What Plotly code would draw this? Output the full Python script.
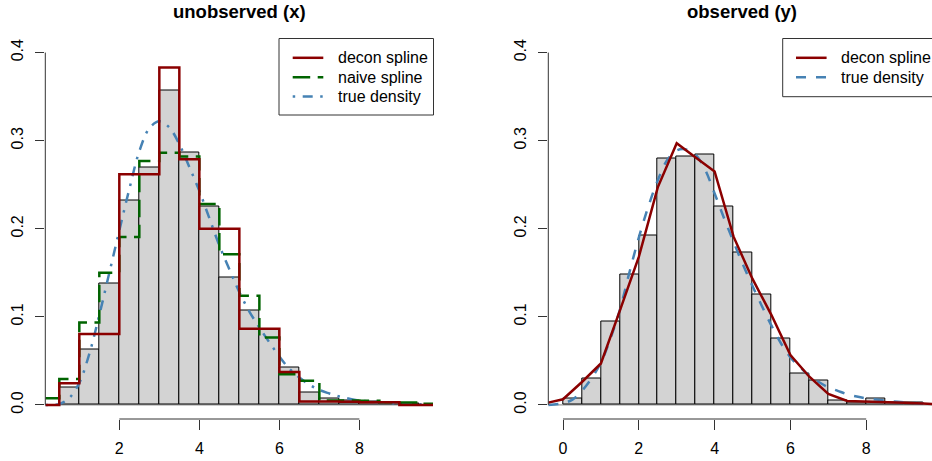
import plotly.graph_objects as go

# ---------------- data ----------------
# left panel: unobserved (x)
hist_x_edges = [0.5, 1.0, 1.5, 2.0, 2.5, 3.0, 3.5, 4.0, 4.5, 5.0, 5.5, 6.0, 6.5, 7.0, 7.5, 8.0, 8.5, 9.0, 9.5]
hist_x_dens = [0.020, 0.063, 0.1377, 0.232, 0.270, 0.357, 0.287, 0.225, 0.145, 0.1075,
               0.0857, 0.0426, 0.014, 0.0075, 0.005, 0.004, 0.003, 0.0015]

step_edges_x = [0.15, 0.5, 1.0, 1.5, 2.0, 2.5, 3.0, 3.5, 4.0, 4.5, 5.0, 5.5, 6.0, 6.5, 7.0,
                7.5, 8.0, 8.5, 9.0, 9.5, 9.84]
decon_step_x = [0.0, 0.0245, 0.0804, 0.0804, 0.262, 0.262, 0.383, 0.279, 0.200, 0.200, 0.0864,
                0.0864, 0.0374, 0.004, 0.004, 0.0035, 0.003, 0.003, 0.0, 0.0]
naive_step_x = [0.0075, 0.0294, 0.0936, 0.150, 0.1906, 0.277, 0.2864, 0.282, 0.228, 0.171, 0.1238,
                0.0766, 0.0347, 0.0275, 0.0049, 0.0049, 0.0048, 0.0029, 0.0028, 0.0012]

true_x_grid = [0.15, 0.5, 0.75, 1.0, 1.25, 1.5, 1.75, 2.0, 2.25, 2.5, 2.75, 3.0, 3.25, 3.5, 3.75,
               4.0, 4.25, 4.5, 4.75, 5.0, 5.25, 5.5, 5.75, 6.0, 6.25, 6.5, 6.75, 7.0, 7.25, 7.5,
               7.75, 8.0, 8.5, 9.0, 9.5, 9.84]
true_x_dens = [0.0, 0.001, 0.008, 0.025, 0.058, 0.102, 0.150, 0.198, 0.245, 0.288, 0.314, 0.322,
               0.315, 0.296, 0.270, 0.243, 0.212, 0.181, 0.154, 0.128, 0.106, 0.088, 0.071, 0.055,
               0.041, 0.031, 0.023, 0.017, 0.013, 0.0095, 0.007, 0.005, 0.003, 0.0015, 0.0008, 0.0005]

# right panel: observed (y)
hist_y_edges = [0.0, 0.5, 1.0, 1.5, 2.0, 2.5, 3.0, 3.5, 4.0, 4.5, 5.0, 5.5, 6.0, 6.5, 7.0, 7.5,
                8.0, 8.5, 9.0, 9.5]
hist_y_dens = [0.0075, 0.030, 0.095, 0.1475, 0.1925, 0.280, 0.2823, 0.2845, 0.225, 0.1728, 0.125,
               0.0751, 0.0355, 0.0279, 0.005, 0.0023, 0.0072, 0.0025, 0.0023]

decon_y_grid = [-0.39, 0.0, 0.5, 1.0, 1.5, 2.0, 2.5, 3.0, 3.5, 4.0, 4.5, 5.0, 5.5, 6.0, 6.5, 7.0,
                7.5, 8.0, 8.5, 9.0, 9.5, 9.8]
decon_y_dens = [0.0026, 0.0064, 0.026, 0.047, 0.107, 0.168, 0.247, 0.297, 0.281, 0.265, 0.191,
                0.143, 0.102, 0.0567, 0.032, 0.0125, 0.0045, 0.004, 0.0035, 0.0025, 0.0015, 0.001]

true_y_grid = [-0.39, 0.0, 0.25, 0.5, 0.75, 1.0, 1.25, 1.5, 1.75, 2.0, 2.25, 2.5, 2.75, 3.0, 3.25,
               3.5, 3.75, 4.0, 4.25, 4.5, 4.75, 5.0, 5.25, 5.5, 5.75, 6.0, 6.25, 6.5, 6.75, 7.0,
               7.25, 7.5, 7.75, 8.0, 8.5, 9.0, 9.5, 9.8]
true_y_dens = [0.0, 0.002, 0.006, 0.016, 0.030, 0.048, 0.075, 0.108, 0.150, 0.190, 0.225, 0.255,
               0.278, 0.289, 0.290, 0.284, 0.267, 0.240, 0.212, 0.185, 0.159, 0.135, 0.112, 0.090,
               0.070, 0.054, 0.043, 0.033, 0.026, 0.020, 0.016, 0.012, 0.0095, 0.0075, 0.0048,
               0.003, 0.0015, 0.001]

x_ticks_left = [2, 4, 6, 8]
x_ticks_right = [0, 2, 4, 6, 8]
y_ticks = [0.0, 0.1, 0.2, 0.3, 0.4]
y_ticktext = ["0.0", "0.1", "0.2", "0.3", "0.4"]

titles = ["unobserved (x)", "observed (y)"]
legend_left = ["decon spline", "naive spline", "true density"]
legend_right = ["decon spline", "true density"]

# ---------------- style ----------------
W, H = 932, 461
FONT = "Liberation Sans, Arial, Helvetica, sans-serif"
RED = "#8B0000"
GREEN = "#006400"
BLUE = "#4682B4"
GRAYFILL = "#D3D3D3"
AX = "#333333"
LW = 2.5
DASH_LONG = "17.5px,7.5px"
DASH_DOTDASH = "2.5px,7.5px,10px,7.5px"
DASH_DASH = "10px,10px"

def px_x(p):
    return p / W

def px_y(p):  # pixel from top -> paper
    return (H - p) / H

x1_dom = [px_x(45.3), px_x(433.0)]
x1_rng = [0.15, 9.84]
x2_dom = [px_x(548.3), 1.0]
x2_rng = [-0.388, 9.736]
y_dom = [px_y(419.0), px_y(38.5)]
y_rng = [-0.016, 0.416]


def centers(edges):
    return [(a + b) / 2 for a, b in zip(edges[:-1], edges[1:])]


fig = go.Figure()

# histograms
fig.add_trace(go.Bar(x=centers(hist_x_edges), y=hist_x_dens, width=0.5,
                     marker=dict(color=GRAYFILL, line=dict(color="black", width=1)),
                     xaxis="x", yaxis="y", showlegend=False, hoverinfo="skip"))
fig.add_trace(go.Bar(x=centers(hist_y_edges), y=hist_y_dens, width=0.5,
                     marker=dict(color=GRAYFILL, line=dict(color="black", width=1)),
                     xaxis="x2", yaxis="y2", showlegend=False, hoverinfo="skip"))

# left lines
fig.add_trace(go.Scatter(x=true_x_grid, y=true_x_dens, mode="lines", line_shape="spline",
                         line=dict(color=BLUE, width=LW, dash=DASH_DOTDASH),
                         xaxis="x", yaxis="y", showlegend=False))
fig.add_trace(go.Scatter(x=step_edges_x, y=naive_step_x + [naive_step_x[-1]], mode="lines",
                         line_shape="hv", line=dict(color=GREEN, width=LW, dash=DASH_LONG),
                         xaxis="x", yaxis="y", showlegend=False))
fig.add_trace(go.Scatter(x=step_edges_x, y=decon_step_x + [decon_step_x[-1]], mode="lines",
                         line_shape="hv", line=dict(color=RED, width=LW),
                         xaxis="x", yaxis="y", showlegend=False))

# right lines
fig.add_trace(go.Scatter(x=true_y_grid, y=true_y_dens, mode="lines", line_shape="spline",
                         line=dict(color=BLUE, width=LW, dash=DASH_DASH),
                         xaxis="x2", yaxis="y2", showlegend=False))
fig.add_trace(go.Scatter(x=decon_y_grid, y=decon_y_dens, mode="lines",
                         line=dict(color=RED, width=LW),
                         xaxis="x2", yaxis="y2", showlegend=False))

shapes = []
annotations = []

# baselines at y=0 and R-style axis lines
for xref, yref, rng, ticks, dom in [("x", "y", x1_rng, x_ticks_left, x1_dom),
                                      ("x2", "y2", x2_rng, x_ticks_right, x2_dom)]:
    shapes.append(dict(type="line", xref=xref, yref=yref, x0=rng[0], x1=rng[1], y0=0, y1=0,
                       line=dict(color="#808080", width=1), layer="below"))
    shapes.append(dict(type="line", xref=xref, yref="paper", x0=min(ticks), x1=max(ticks),
                       y0=y_dom[0], y1=y_dom[0], line=dict(color=AX, width=1)))
    shapes.append(dict(type="line", xref="paper", yref=yref, x0=dom[0], x1=dom[0],
                       y0=min(y_ticks), y1=max(y_ticks), line=dict(color=AX, width=1)))

# titles
for title, dom_l, dom_r in [(titles[0], 45.3, 433.0), (titles[1], 548.3, 936.0)]:
    annotations.append(dict(text="<b>%s</b>" % title, xref="paper", yref="paper",
                            x=px_x((dom_l + dom_r) / 2), y=px_y(11.0), xanchor="center",
                            yanchor="middle", showarrow=False,
                            font=dict(family=FONT, size=18.5, color="black")))

# legends (R-style boxed legends)
def add_legend(box_l, box_r, box_t, box_b, line_l, line_r, text_l, rows, labels, styles):
    shapes.append(dict(type="rect", xref="paper", yref="paper", x0=px_x(box_l), x1=px_x(box_r),
                       y0=px_y(box_b), y1=px_y(box_t), line=dict(color=AX, width=1),
                       fillcolor="white", layer="above"))
    for r, lab, (col, dash) in zip(rows, labels, styles):
        shapes.append(dict(type="line", xref="paper", yref="paper", x0=px_x(line_l),
                           x1=px_x(line_r), y0=px_y(r), y1=px_y(r),
                           line=dict(color=col, width=LW, dash=dash)))
        annotations.append(dict(text=lab, xref="paper", yref="paper", x=px_x(text_l), y=px_y(r),
                                xanchor="left", yanchor="middle", showarrow=False,
                                font=dict(family=FONT, size=16, color="black")))

add_legend(279.0, 433.5, 38.5, 115.0, 292.7, 323.3, 336.0, [57.8, 77.2, 96.6], legend_left,
           [(RED, "solid"), (GREEN, DASH_LONG), (BLUE, DASH_DOTDASH)])
add_legend(782.7, 936.5, 38.5, 96.7, 796.0, 826.6, 839.3, [57.8, 77.2], legend_right,
           [(RED, "solid"), (BLUE, DASH_DASH)])

axis_common = dict(showgrid=False, zeroline=False, showline=False, ticks="outside",
                   ticklen=9.5, tickwidth=1, tickcolor=AX,
                   tickfont=dict(family=FONT, size=16, color="black"), fixedrange=True)

fig.update_layout(
    width=W, height=H, margin=dict(l=0, r=0, t=0, b=0),
    paper_bgcolor="white", plot_bgcolor="white", barmode="overlay", bargap=0,
    showlegend=False,
    xaxis=dict(domain=x1_dom, range=x1_rng, tickvals=x_ticks_left, anchor="y",
               ticklabelstandoff=5, **axis_common),
    yaxis=dict(domain=y_dom, range=y_rng, tickvals=y_ticks, ticktext=y_ticktext, tickangle=-90,
               anchor="x", ticklabelstandoff=5, **axis_common),
    xaxis2=dict(domain=x2_dom, range=x2_rng, tickvals=x_ticks_right, anchor="y2",
                ticklabelstandoff=5, **axis_common),
    yaxis2=dict(domain=y_dom, range=y_rng, tickvals=y_ticks, ticktext=y_ticktext, tickangle=-90,
                anchor="x2", ticklabelstandoff=5, **axis_common),
    shapes=shapes, annotations=annotations,
)

fig.write_html("out.html")
